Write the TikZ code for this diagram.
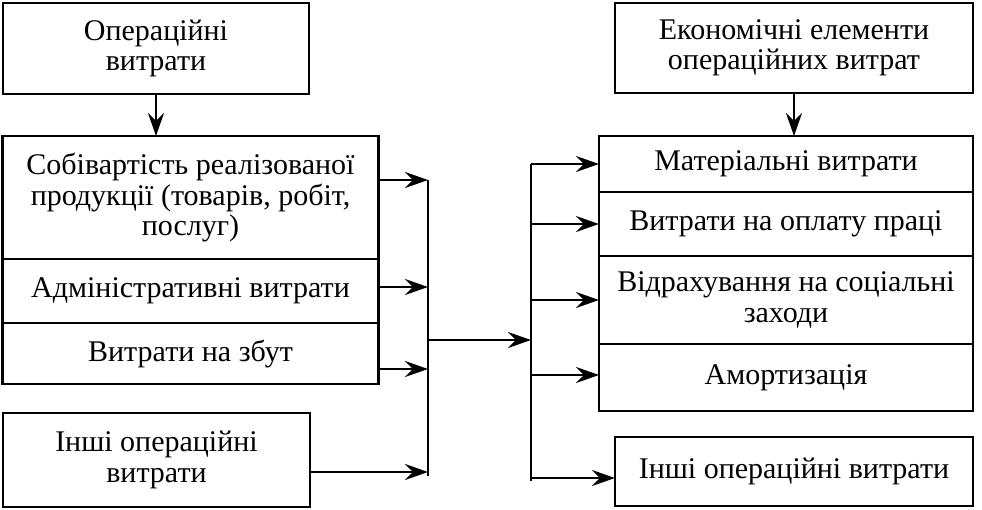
\documentclass[tikz,border=0pt]{standalone}
\usepackage{fontspec}
\setmainfont{Liberation Serif}
\usetikzlibrary{positioning,arrows.meta}

\tikzset{
  blk/.style={draw, line width=2.2pt, align=center, inner sep=0pt, outer sep=0pt,
    font=\fontsize{30}{30.5}\selectfont},
  bus/.style={line width=2.2pt},
  arr/.style={bus, -{Stealth[length=23pt,width=16pt,inset=8pt]}},
}

\begin{document}
\begin{tikzpicture}[x=1pt,y=-1pt]
    \useasboundingbox (0,0) rectangle (982,509);
    % left column
    \node[blk, minimum width=306pt, minimum height=91pt] (ops) at (156,48.5) {Операційні\\витрати};
    \node[blk, minimum width=376pt, minimum height=123pt] (cost) at (190.5,197.5)
        {Собівартість реалізованої\\продукції (товарів, робіт,\\послуг)};
    \node[blk, minimum width=376pt, minimum height=64pt, below=0pt of cost] (adm) {Адміністративні витрати};
    \node[blk, minimum width=376pt, minimum height=61pt, below=0pt of adm] (sale) {\raisebox{4pt}{Витрати на збут}};
    \node[blk, minimum width=307pt, minimum height=94pt] (other) at (156.5,460) {Інші операційні\\витрати};

    % right column
    \node[blk, minimum width=358pt, minimum height=90pt] (econ) at (794,48) {Економічні елементи\\операційних витрат};
    \node[blk, minimum width=374pt, minimum height=56pt] (mat) at (786,164) {Матеріальні витрати};
    \node[blk, minimum width=374pt, minimum height=64pt, below=0pt of mat] (pay) {Витрати на оплату праці};
    \node[blk, minimum width=374pt, minimum height=88pt, below=0pt of pay] (soc) {Відрахування на соціальні\\заходи};
    \node[blk, minimum width=374pt, minimum height=67pt, below=0pt of soc] (amort) {Амортизація};
    \node[blk, minimum width=358pt, minimum height=69pt] (misc) at (794,471.5) {Інші операційні витрати};

    % buses
    \coordinate (l1) at (428,180);
    \coordinate (l2) at (428,287);
    \coordinate (l3) at (428,369);
    \coordinate (l4) at (428,472);
    \coordinate (lend) at (428,476);
    \coordinate (lm) at (428,340);
    \coordinate (rm) at (531,340);
    \coordinate (rtop) at (531,164);
    \coordinate (r4) at (531,375);
    \coordinate (r5) at (531,478);
    \coordinate (rend) at (531,481);

    \draw[arr] (ops.south) -- (ops.south |- cost.north);
    \draw[arr] (econ.south) -- (econ.south |- mat.north);

    \draw[bus] (l1) -- (lend);
    \draw[arr] (cost.east |- l1) -- (l1);
    \draw[arr] (adm.east |- l2) -- (l2);
    \draw[arr] (sale.east |- l3) -- (l3);
    \draw[arr] (other.east |- l4) -- (l4);
    \draw[arr] (lm) -- (rm);

    \draw[bus] (rtop) -- (rend);
    \draw[arr] (rtop) -- (mat.west);
    \draw[arr] (pay.west -| rtop) -- (pay.west);
    \draw[arr] (soc.west -| rtop) -- (soc.west);
    \draw[arr] (r4) -- (r4 -| amort.west);
    \draw[arr] (r5) -- (r5 -| misc.west);
\end{tikzpicture}
\end{document}
